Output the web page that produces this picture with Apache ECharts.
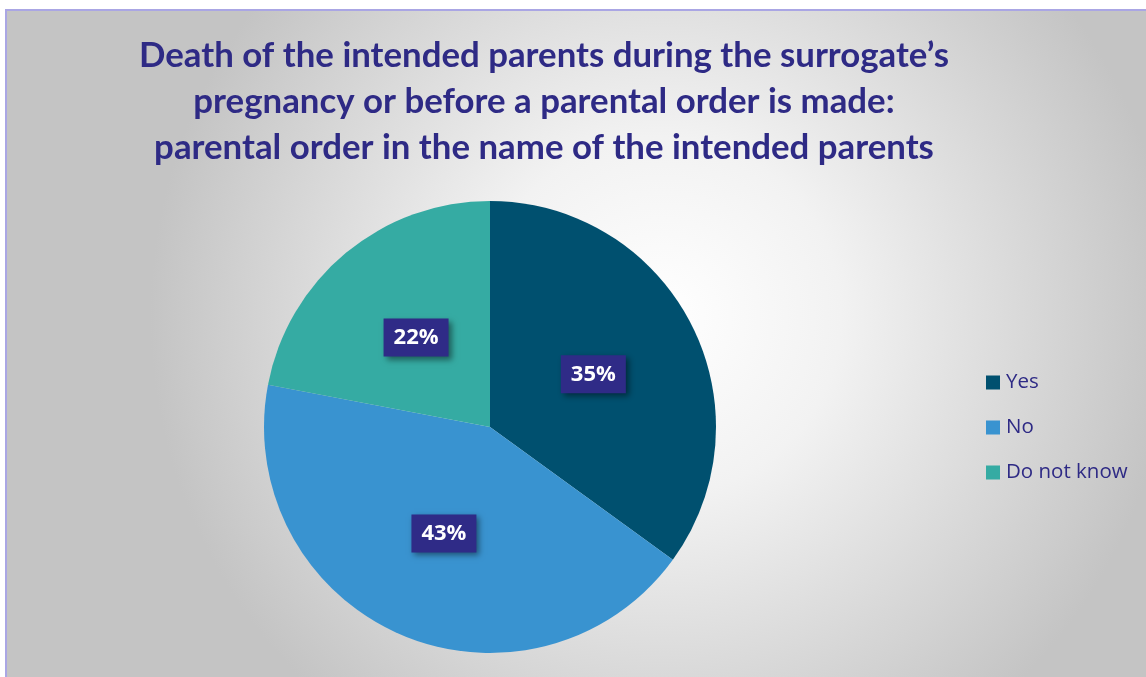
<!DOCTYPE html>
<html>
<head>
<meta charset="utf-8">
<script src="https://cdn.jsdelivr.net/npm/echarts@6/dist/echarts.min.js"></script>
<style>
html,body{margin:0;padding:0;background:#fff;}
#c{width:1146px;height:677px;}
</style>
</head>
<body>
<div id="c"></div>
<script>
const titleText = 'Death of the intended parents during the surrogate\u2019s\npregnancy or before a parental order is made:\nparental order in the name of the intended parents';
const categories = ['Yes', 'No', 'Do not know'];
const values = [35, 43, 22];
const colors = ['#00506f', '#3993d0', '#35aba3'];

const chart = echarts.init(document.getElementById('c'));
chart.setOption({
  animation: false,
  graphic: [
    {
      type: 'rect', z: -10, silent: true,
      shape: { x: 6, y: 10, width: 1150, height: 680 },
      style: {
        fill: {
          type: 'radial', x: 0.57, y: 0.45, r: 0.75,
          colorStops: [
            { offset: 0, color: '#ffffff' },
            { offset: 0.35, color: '#f2f2f2' },
            { offset: 1, color: '#c4c4c4' }
          ]
        },
        stroke: '#aaa6e4', lineWidth: 2
      }
    }
  ],
  title: {
    text: titleText,
    left: 539, top: 28, textAlign: 'center',
    textStyle: {
      fontFamily: 'Lato', fontWeight: 'bold', fontSize: 34.8,
      color: '#2e2a85', lineHeight: 46
    }
  },
  legend: {
    orient: 'vertical',
    left: 981, top: 367,
    itemWidth: 14, itemHeight: 14, itemGap: 24,
    icon: 'rect',
    data: categories,
    textStyle: { fontFamily: 'Open Sans', fontSize: 20.5, color: '#2e2a85', padding: [0, 0, 0, 1] }
  },
  series: [{
    type: 'pie',
    center: [490, 427],
    radius: 226,
    startAngle: 90,
    clockwise: true,
    silent: true,
    data: categories.map((c, i) => ({ name: c, value: values[i], itemStyle: { color: colors[i] } })),
    label: {
      position: 'inside',
      formatter: p => p.value + '%',
      fontFamily: 'Open Sans', fontWeight: 'bold', fontSize: 22,
      color: '#ffffff',
      backgroundColor: '#2f2b87',
      padding: [9, 10, 7, 10],
      shadowBlur: 6, shadowOffsetX: 3, shadowOffsetY: 3,
      shadowColor: 'rgba(0,0,0,0.45)'
    },
    labelLine: { show: false },
    itemStyle: { borderWidth: 0 }
  }]
});
</script>
</body>
</html>
